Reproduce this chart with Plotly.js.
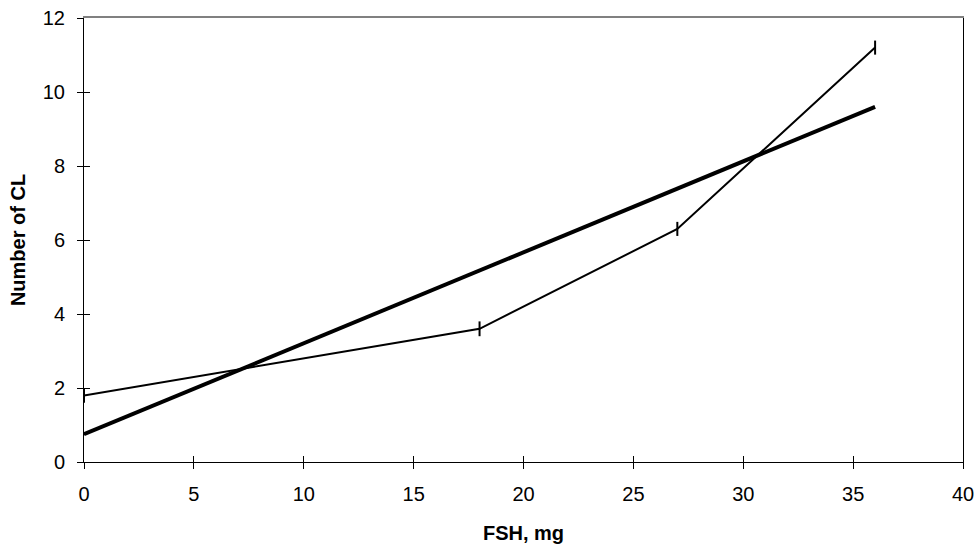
<!DOCTYPE html>
<html>
<head>
<meta charset="utf-8">
<script src="https://cdn.plot.ly/plotly-3.0.1.min.js"></script>
<style>html,body{margin:0;padding:0;background:#fff;}#chart{width:979px;height:544px;}</style>
</head>
<body>
<div id="chart"></div>
<script>
// Observed means with error bars
const fshDose = [0, 18, 27, 36];
const meanCL = [1.8, 3.6, 6.3, 11.2];
const errCL = [0.2, 0.2, 0.19, 0.19];
// Fitted regression line end points
const fitDose = [0, 36];
const fitCL = [0.75, 9.6];
const xTicks = [0, 5, 10, 15, 20, 25, 30, 35, 40];
const yTicks = [0, 2, 4, 6, 8, 10, 12];

const font = 'Liberation Sans, Arial, sans-serif';

const traces = [
  // invisible helpers so the overlay axes (crossing ticks, frame) are drawn
  {x: fitDose, y: fitCL, xaxis: 'x2', yaxis: 'y2', mode: 'lines', type: 'scatter',
   line: {color: 'rgba(0,0,0,0)', width: 0}, hoverinfo: 'skip', showlegend: false},
  {x: fitDose, y: fitCL, xaxis: 'x3', yaxis: 'y3', mode: 'lines', type: 'scatter',
   line: {color: 'rgba(0,0,0,0)', width: 0}, hoverinfo: 'skip', showlegend: false},
  {
    x: fitDose, y: fitCL, mode: 'lines', type: 'scatter',
    line: {color: '#000', width: 4}, hoverinfo: 'skip', showlegend: false
  },
  {
    x: fshDose, y: meanCL, mode: 'lines', type: 'scatter',
    line: {color: '#000', width: 2},
    error_y: {type: 'data', array: errCL, visible: true, color: '#000', thickness: 2, width: 0},
    showlegend: false
  }
];

const layout = {
  width: 979, height: 544,
  margin: {l: 84, r: 16, t: 18, b: 82},
  paper_bgcolor: '#fff', plot_bgcolor: 'rgba(0,0,0,0)',
  font: {family: font, size: 20, color: '#000'},
  showlegend: false,
  xaxis: {
    range: [0, 40], tickvals: xTicks, ticktext: xTicks.map(String),
    ticks: 'outside', ticklen: 6, tickcolor: '#000', tickwidth: 1, ticklabelstandoff: 8,
    showline: true, linecolor: '#000', linewidth: 1, showgrid: false, zeroline: false,
    title: {text: '<b>FSH, mg</b>', font: {family: font, size: 20}, standoff: 22},
    fixedrange: true
  },
  xaxis2: {
    overlaying: 'x', anchor: 'y2', side: 'bottom', range: [0, 40], tickvals: xTicks,
    ticks: 'inside', ticklen: 6, tickcolor: '#000', showticklabels: false,
    showline: false, showgrid: false, zeroline: false
  },
  xaxis3: {
    overlaying: 'x', anchor: 'y3', side: 'top', range: [0, 40],
    ticks: '', showticklabels: false, showline: true, linecolor: '#808080', linewidth: 2,
    showgrid: false, zeroline: false
  },
  yaxis: {
    range: [0, 12], tickvals: yTicks, ticktext: yTicks.map(String),
    ticks: 'outside', ticklen: 6, tickcolor: '#000', tickwidth: 1, ticklabelstandoff: 8,
    showline: true, linecolor: '#000', linewidth: 1, showgrid: false, zeroline: false,
    title: {text: '<b>Number of CL</b>', font: {family: font, size: 20}, standoff: 11},
    fixedrange: true
  },
  yaxis2: {
    overlaying: 'y', anchor: 'x2', side: 'left', range: [0, 12], tickvals: yTicks,
    ticks: 'inside', ticklen: 6, tickcolor: '#000', showticklabels: false,
    showline: false, showgrid: false, zeroline: false
  },
  yaxis3: {
    overlaying: 'y', anchor: 'x3', side: 'right', range: [0, 12],
    ticks: '', showticklabels: false, showline: true, linecolor: '#000', linewidth: 1,
    showgrid: false, zeroline: false
  }
};

Plotly.newPlot('chart', traces, layout, {displayModeBar: false, staticPlot: true});
</script>
</body>
</html>
